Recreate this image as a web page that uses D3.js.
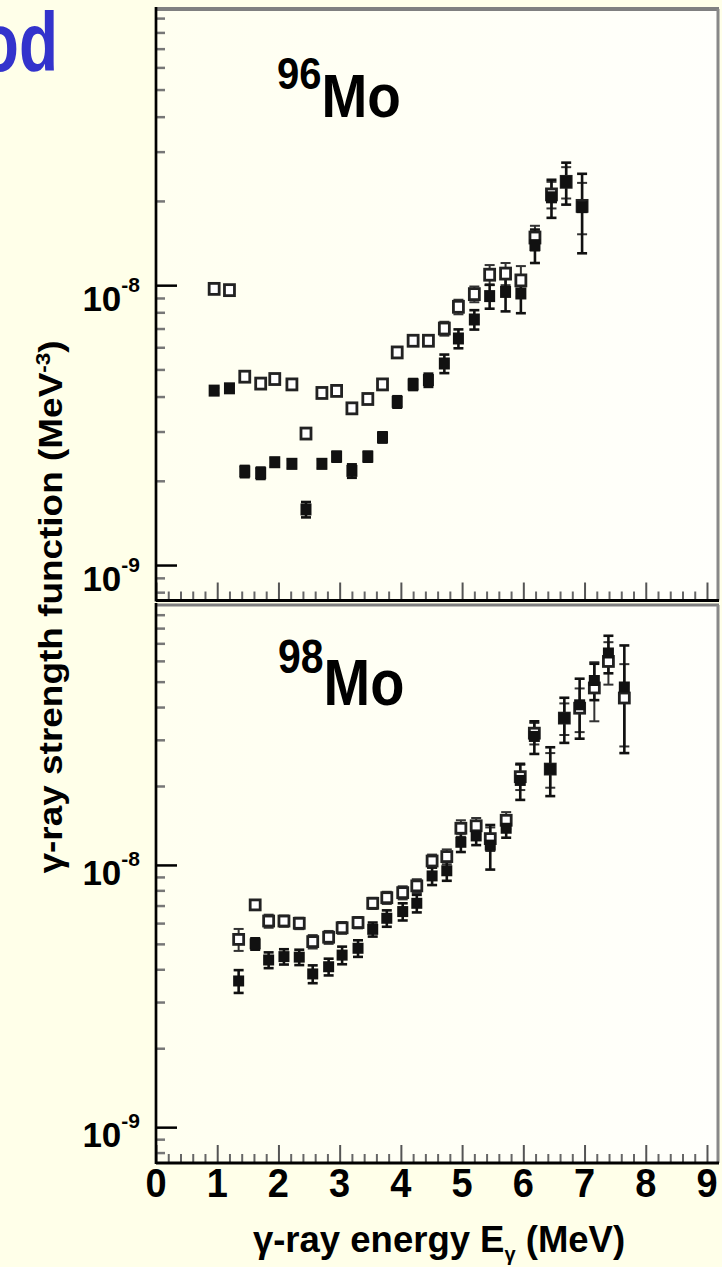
<!DOCTYPE html>
<html>
<head>
<meta charset="utf-8">
<script src="https://cdn.jsdelivr.net/npm/d3@7"></script>
<style>
  html, body { margin: 0; padding: 0; background: #ffffe9; }
  svg { display: block; }
  text { font-family: "Liberation Sans", Arial, Helvetica, sans-serif; font-weight: bold; }
</style>
</head>
<body>
<svg id="chart" width="722" height="1267"></svg>
<script>
// gamma-ray energies (MeV) and strength values, in units of 1e-9 MeV^-3
let energy96 = [0.95, 1.20, 1.45, 1.71, 1.94, 2.22, 2.45, 2.71, 2.95, 3.20, 3.46, 3.70, 3.94,
                4.20, 4.45, 4.71, 4.94, 5.20, 5.45, 5.71, 5.96, 6.19, 6.46, 6.70, 6.96];
let open96 = [9.7, 9.6, 4.71, 4.45, 4.62, 4.42, 2.95, 4.12, 4.19, 3.63, 3.92, 4.42, 5.75,
              6.33, 6.33, 7.0, 8.37, 9.29, 10.9, 11.0, 10.4, 14.8, 21.1, 23.4, 19.2];
let open96Err = [0.2, 0.2, 0.12, 0.1, 0.1, 0.1, 0.1, 0.1, 0.1, 0.1, 0.15, 0.15, 0.2,
                 0.2, 0.25, 0.4, 0.5, 0.6, 0.9, 1.0, 1.3, 1.5, 2.3, 3.0, 4.0];
let filled96 = [4.2, 4.28, 2.16, 2.13, 2.33, 2.30, 1.58, 2.30, 2.44, 2.17, 2.44, 2.86, 3.83,
                4.42, 4.58, 5.25, 6.45, 7.54, 9.14, 9.46, 9.34, 13.9, 20.6, 23.4, 19.0];
let filled96Err = [0.1, 0.1, 0.1, 0.1, 0.08, 0.08, 0.1, 0.08, 0.1, 0.12, 0.1, 0.12, 0.18,
                   0.2, 0.25, 0.4, 0.5, 0.6, 0.9, 1.4, 1.4, 1.9, 3.2, 4.0, 6.0];

let energy98 = [1.35, 1.62, 1.84, 2.09, 2.34, 2.56, 2.82, 3.04, 3.30, 3.54, 3.77, 4.03, 4.26, 4.51,
                4.75, 4.98, 5.23, 5.46, 5.72, 5.95, 6.18, 6.44, 6.67, 6.92, 7.16, 7.39, 7.65];
let open98 = [5.20, 7.04, 6.11, 6.11, 5.99, 5.10, 5.30, 5.76, 6.03, 7.14, 7.50, 7.84, 8.32, 10.35,
              10.76, 13.8, 14.1, 12.6, 14.8, 21.7, 31.8, 23.2, 36.3, 39.6, 47.3, 59.7, 43.3];
let open98Err = [0.5, 0.3, 0.35, 0.3, 0.3, 0.3, 0.3, 0.3, 0.3, 0.35, 0.4, 0.45, 0.5, 0.6,
                 0.7, 1.0, 1.0, 1.3, 1.1, 2.4, 3.0, 3.5, 5.0, 7.5, 12, 11, 15];
let filled98 = [3.61, 5.00, 4.34, 4.47, 4.45, 3.84, 4.09, 4.53, 4.81, 5.68, 6.26, 6.64, 7.14, 9.08,
                9.5, 12.2, 12.9, 11.9, 13.8, 21.0, 30.9, 23.2, 36.3, 40.8, 50.5, 64.3, 47.7];
let filled98Err = [0.36, 0.25, 0.3, 0.3, 0.3, 0.3, 0.3, 0.35, 0.35, 0.35, 0.45, 0.5, 0.55, 0.7,
                   0.8, 1.0, 1.0, 2.3, 1.1, 3.3, 4.4, 4.9, 7.1, 10.5, 8.0, 10.5, 21];

let xMajorTicks = [0, 1, 2, 3, 4, 5, 6, 7, 8, 9];
let yMajorTicks = [1e-9, 1e-8];

let svg = d3.select("#chart");
let left = 156, right = 718;

let x = d3.scaleLinear().domain([0, 9.18]).range([left, right]);

let defs = svg.append("defs");
let grad = defs.append("linearGradient").attr("id", "plotbg");
grad.append("stop").attr("offset", "0%").attr("stop-color", "#fffff0");
grad.append("stop").attr("offset", "100%").attr("stop-color", "#fffffb");

// cropped slide title
svg.append("text")
    .attr("transform", "translate(58,71) scale(1,1.3)")
    .attr("text-anchor", "end")
    .attr("font-size", 64)
    .attr("fill", "#3333cc")
    .text("od");

let panels = [
  {iso: "96", top: 9, bottom: 600.5, domain: [7.47e-10, 9.7e-8],
   energy: energy96, open: open96, openErr: open96Err, filled: filled96, filledErr: filled96Err,
   label: {x: 277, y: 117, sy: 1.1, sup: 40, main: 55, rise: 25.5}, labelOff: 26, mh: 11},
  {iso: "98", top: 605, bottom: 1163, domain: [7.3e-10, 9.8e-8],
   energy: energy98, open: open98, openErr: open98Err, filled: filled98, filledErr: filled98Err,
   label: {x: 278, y: 705, sy: 1.17, sup: 41, main: 56, rise: 27}, labelOff: 20, mh: 10}
];

panels.forEach((p, i) => {
  let y = d3.scaleLog().domain(p.domain).range([p.bottom, p.top]);
  let g = svg.append("g");

  g.append("rect")
      .attr("x", left).attr("y", p.top)
      .attr("width", right - left).attr("height", p.bottom - p.top)
      .attr("fill", "url(#plotbg)");

  // y ticks, pointing into the plot
  let minor = y.ticks().filter(d => !yMajorTicks.includes(d));
  let ym = g.append("g").attr("transform", `translate(${left},0)`)
      .call(d3.axisRight(y).tickValues(minor).tickSize(9).tickFormat(""));
  ym.select(".domain").remove();
  ym.selectAll("line").attr("stroke", "#777").attr("stroke-width", 2.5);
  let yM = g.append("g").attr("transform", `translate(${left},0)`)
      .call(d3.axisRight(y).tickValues(yMajorTicks).tickSize(21).tickFormat(""));
  yM.select(".domain").remove();
  yM.selectAll("line").attr("stroke", "#000").attr("stroke-width", 2.5);

  // x ticks, pointing up
  let xm = g.append("g").attr("transform", `translate(0,${p.bottom})`)
      .call(d3.axisTop(x).tickValues(x.ticks(45).filter(d => !xMajorTicks.includes(d))).tickSize(9).tickFormat(""));
  xm.select(".domain").remove();
  xm.selectAll("line").attr("stroke", "#666").attr("stroke-width", 2);
  let xM = g.append("g").attr("transform", `translate(0,${p.bottom})`)
      .call(d3.axisTop(x).tickValues(xMajorTicks).tickSize(18).tickFormat(""));
  xM.select(".domain").remove();
  xM.selectAll("line").attr("stroke", "#555").attr("stroke-width", 2);

  // frame: grey top/right, black left/bottom
  g.append("line").attr("x1", left).attr("x2", right + 1).attr("y1", p.top).attr("y2", p.top)
      .attr("stroke", "#808080").attr("stroke-width", i == 0 ? 4 : 3);
  g.append("line").attr("x1", right).attr("x2", right).attr("y1", p.top).attr("y2", p.bottom)
      .attr("stroke", "#888").attr("stroke-width", 3);
  g.append("line").attr("x1", left).attr("x2", right + 1).attr("y1", p.bottom).attr("y2", p.bottom)
      .attr("stroke", "#000").attr("stroke-width", 3);
  g.append("line").attr("x1", left).attr("x2", left).attr("y1", p.top - 2).attr("y2", p.bottom + 1)
      .attr("stroke", "#000").attr("stroke-width", 2.7);

  // decade labels
  yMajorTicks.forEach(v => {
    let t = svg.append("text")
        .attr("x", 140).attr("y", y(v) + p.labelOff)
        .attr("text-anchor", "end").attr("font-size", 35).attr("fill", "#000");
    t.append("tspan").text("10");
    t.append("tspan").attr("dy", -19).attr("font-size", 21).text("-" + Math.round(-Math.log10(v)));
  });

  // error bars
  let series = [
    {vals: p.open, err: p.openErr, color: "#333", w: 2},
    {vals: p.filled, err: p.filledErr, color: "#111", w: 2.6}
  ];
  series.forEach(s => {
    let bars = g.append("g").attr("stroke", s.color).attr("stroke-width", s.w);
    p.energy.forEach((e, k) => {
      let lo = y((s.vals[k] - s.err[k]) * 1e-9), hi = y((s.vals[k] + s.err[k]) * 1e-9);
      bars.append("line").attr("x1", x(e)).attr("x2", x(e)).attr("y1", lo).attr("y2", hi);
      bars.append("line").attr("x1", x(e) - 5).attr("x2", x(e) + 5).attr("y1", lo).attr("y2", lo);
      bars.append("line").attr("x1", x(e) - 5).attr("x2", x(e) + 5).attr("y1", hi).attr("y2", hi);
    });
  });

  // open squares, then filled squares
  g.append("g").selectAll("rect")
    .data(p.energy.map((e, k) => [e, p.open[k]]))
    .join("rect")
      .attr("x", d => x(d[0]) - 5).attr("y", d => y(d[1] * 1e-9) - p.mh / 2)
      .attr("width", 10).attr("height", p.mh)
      .attr("fill", "#fff").attr("stroke", "#222").attr("stroke-width", 2.8);
  g.append("g").selectAll("rect")
    .data(p.energy.map((e, k) => [e, p.filled[k]]))
    .join("rect")
      .attr("x", d => x(d[0]) - 5.5).attr("y", d => y(d[1] * 1e-9) - p.mh / 2 - 0.5)
      .attr("width", 11).attr("height", p.mh + 1)
      .attr("fill", "#111");

  // isotope label
  let lt = svg.append("text")
      .attr("transform", `translate(${p.label.x},${p.label.y}) scale(1,${p.label.sy})`)
      .attr("fill", "#000");
  lt.append("tspan").attr("font-size", p.label.sup).attr("dy", -p.label.rise).text(p.iso);
  lt.append("tspan").attr("font-size", p.label.main).attr("dy", p.label.rise).text("Mo");
});

// energy labels under the lower panel
svg.append("g").selectAll("text")
  .data(xMajorTicks)
  .join("text")
    .attr("transform", d => `translate(${x(d)},1197) scale(1,1.08)`)
    .attr("text-anchor", "middle").attr("font-size", 38)
    .text(d => d);

let xt = svg.append("text")
    .attr("x", 439).attr("y", 1252)
    .attr("text-anchor", "middle").attr("font-size", 36.5);
xt.append("tspan").text("γ-ray energy E");
xt.append("tspan").attr("font-size", 20).attr("dy", 9).text("γ");
xt.append("tspan").attr("dy", -9).text(" (MeV)");

let yt = svg.append("text")
    .attr("transform", "translate(62,607) scale(1,1.12) rotate(-90)")
    .attr("text-anchor", "middle").attr("font-size", 33);
yt.append("tspan").text("γ-ray strength function (MeV");
yt.append("tspan").attr("font-size", 20).attr("dy", -12).text("-3");
yt.append("tspan").attr("dy", 12).text(")");
</script>
</body>
</html>
